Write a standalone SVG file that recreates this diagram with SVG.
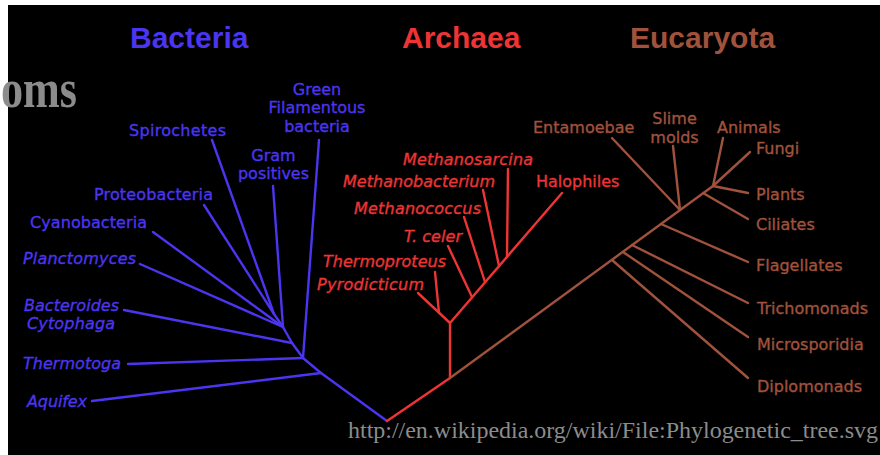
<svg xmlns="http://www.w3.org/2000/svg" width="880" height="455" viewBox="0 0 880 455">
<style>
.t{font-family:"DejaVu Sans",Verdana,sans-serif;font-size:16px;stroke-width:0.35px}
.i{font-style:italic}
.h{font-family:"Liberation Sans",Arial,sans-serif;font-size:30px;font-weight:bold}
.b{fill:#4b35f0}.r{fill:#ee3434}.n{fill:#a0523c}
.t.b{stroke:#4b35f0}.t.r{stroke:#ee3434}.t.n{stroke:#a0523c}
.lb{stroke:#4b35f0}.lr{stroke:#ee3434}.ln{stroke:#a0523c}
.c line,.c polyline{stroke-width:2.4;fill:none;stroke-linecap:round;stroke-linejoin:round}
.g{font-family:"Liberation Serif","Times New Roman",serif;fill:#8c8c8c}
</style>
<rect width="880" height="455" fill="#fff"/>
<rect x="8" y="5" width="872" height="450" fill="#000"/>
<text class="g" x="1" y="107" font-size="54" font-weight="bold" textLength="76" lengthAdjust="spacingAndGlyphs">oms</text>
<g id="titles">
<text class="h b" x="130" y="48">Bacteria</text>
<text class="h r" x="402" y="48">Archaea</text>
<text class="h n" x="630" y="48">Eucaryota</text>
</g>
<g id="connectors" class="c">
<polyline class="lb" points="387,421 321,373 303,358 292,343 283,327 274,314 212,140"/>
<line class="lb" x1="321" y1="373" x2="92" y2="401"/>
<line class="lb" x1="303" y1="358" x2="128" y2="364"/>
<line class="lb" x1="303" y1="358" x2="319" y2="140"/>
<line class="lb" x1="292" y1="343" x2="124" y2="310"/>
<line class="lb" x1="283" y1="327" x2="273" y2="186"/>
<line class="lb" x1="283" y1="327" x2="140" y2="264"/>
<line class="lb" x1="283" y1="327" x2="153" y2="232"/>
<line class="lb" x1="274" y1="314" x2="204" y2="205"/>
<polyline class="lr" points="387,421 450,378 450,323 562,193"/>
<line class="lr" x1="450" y1="323" x2="418" y2="293"/>
<line class="lr" x1="439" y1="313" x2="435" y2="272"/>
<line class="lr" x1="472" y1="297" x2="448" y2="246"/>
<line class="lr" x1="485" y1="282" x2="464" y2="217"/>
<line class="lr" x1="499" y1="266" x2="483" y2="190"/>
<line class="lr" x1="507" y1="257" x2="508" y2="169"/>
<line class="ln" x1="450" y1="378" x2="713" y2="186"/>
<line class="ln" x1="612" y1="260" x2="748" y2="378"/>
<line class="ln" x1="623" y1="252" x2="748" y2="337"/>
<line class="ln" x1="632" y1="245" x2="748" y2="303"/>
<line class="ln" x1="661" y1="224" x2="748" y2="262"/>
<line class="ln" x1="703" y1="193" x2="748" y2="219"/>
<line class="ln" x1="713" y1="186" x2="748" y2="193"/>
<line class="ln" x1="713" y1="186" x2="750" y2="152"/>
<line class="ln" x1="713" y1="186" x2="723" y2="138"/>
<line class="ln" x1="680" y1="210" x2="673" y2="146"/>
<line class="ln" x1="680" y1="210" x2="612" y2="138"/>
</g>
<g id="green-filamentous"><text class="t b" text-anchor="middle" x="317" y="95">Green</text><text class="t b" text-anchor="middle" x="317" y="113">Filamentous</text><text class="t b" text-anchor="middle" x="317" y="132">bacteria</text></g>
<g id="spirochetes"><text class="t b" x="129" y="136" textLength="97">Spirochetes</text></g>
<g id="gram-positives"><text class="t b" text-anchor="middle" x="273.5" y="161">Gram</text><text class="t b" text-anchor="middle" x="273.5" y="179">positives</text></g>
<g id="proteobacteria"><text class="t b" x="94" y="200" textLength="119">Proteobacteria</text></g>
<g id="cyanobacteria"><text class="t b" x="30" y="228" textLength="117">Cyanobacteria</text></g>
<g id="planctomyces"><text class="t i b" x="23" y="264" textLength="113">Planctomyces</text></g>
<g id="bacteroides"><text class="t i b" x="24" y="311" textLength="95">Bacteroides</text><text class="t i b" x="27" y="329" textLength="88">Cytophaga</text></g>
<g id="thermotoga"><text class="t i b" x="23" y="369" textLength="98">Thermotoga</text></g>
<g id="aquifex"><text class="t i b" x="27" y="407" textLength="60">Aquifex</text></g>
<g id="methanosarcina"><text class="t i r" x="403" y="165" textLength="130">Methanosarcina</text></g>
<g id="methanobacterium"><text class="t i r" x="343" y="187" textLength="152">Methanobacterium</text></g>
<g id="halophiles"><text class="t r" x="536" y="187">Halophiles</text></g>
<g id="methanococcus"><text class="t i r" x="354" y="214" textLength="127">Methanococcus</text></g>
<g id="t-celer"><text class="t i r" x="404" y="242" textLength="58">T. celer</text></g>
<g id="thermoproteus"><text class="t i r" x="323" y="267" textLength="123">Thermoproteus</text></g>
<g id="pyrodicticum"><text class="t i r" x="317" y="290" textLength="107">Pyrodicticum</text></g>
<g id="entamoebae"><text class="t n" x="533" y="133">Entamoebae</text></g>
<g id="slime-molds"><text class="t n" text-anchor="middle" x="674.5" y="124">Slime</text><text class="t n" text-anchor="middle" x="674.5" y="143">molds</text></g>
<g id="animals"><text class="t n" x="717" y="133">Animals</text></g>
<g id="fungi"><text class="t n" x="756" y="154">Fungi</text></g>
<g id="plants"><text class="t n" x="756" y="200">Plants</text></g>
<g id="ciliates"><text class="t n" x="756" y="230">Ciliates</text></g>
<g id="flagellates"><text class="t n" x="756" y="271">Flagellates</text></g>
<g id="trichomonads"><text class="t n" x="757" y="314">Trichomonads</text></g>
<g id="microsporidia"><text class="t n" x="757" y="350">Microsporidia</text></g>
<g id="diplomonads"><text class="t n" x="757" y="392">Diplomonads</text></g>
<text class="g" x="348" y="438" font-size="24" textLength="530">http://en.wikipedia.org/wiki/File:Phylogenetic_tree.svg</text>
</svg>
